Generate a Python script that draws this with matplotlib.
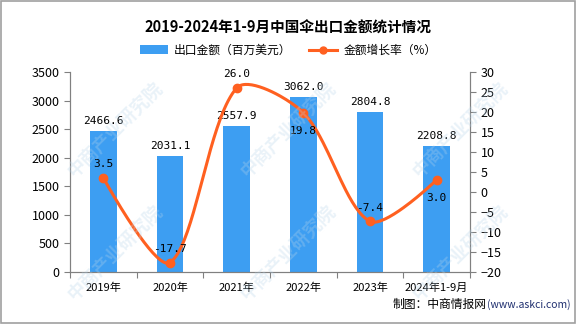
import numpy as np
import matplotlib
matplotlib.use("Agg")
import matplotlib.pyplot as plt
from matplotlib.lines import Line2D
from matplotlib.patches import Patch, Rectangle

plt.rcParams['font.family'] = ['Noto Sans CJK SC', 'DejaVu Sans']

categories = ["2019年", "2020年", "2021年", "2022年", "2023年", "2024年1-9月"]
export_value = [2466.6, 2031.1, 2557.9, 3062.0, 2804.8, 2208.8]
growth_rate = [3.5, -17.7, 26.0, 19.8, -7.4, 3.0]
# label above (+1) or below (-1) the growth point
rate_label_side = [1, 1, 1, -1, 1, -1]

BAR_COLOR = "#3d9ef2"
LINE_COLOR = "#ff6020"
AXIS_COLOR = "#808080"


def smooth_curve(pts, smooth=0.3, n=40):
    # bezier smoothing in pixel space (control points scaled by neighbour distances)
    pts = np.asarray(pts, float)
    m = len(pts)
    cp0 = pts.copy()
    cp1 = pts.copy()
    for i in range(1, m - 1):
        prev, p, nxt = pts[i - 1], pts[i], pts[i + 1]
        v = (nxt - prev) * smooth
        d0 = np.hypot(*(p - prev))
        d1 = np.hypot(*(nxt - p))
        s = d0 + d1
        cp0[i] = p - v * d0 / s
        cp1[i] = p + v * d1 / s
    t = np.linspace(0, 1, n)[:, None]
    segs = []
    for i in range(m - 1):
        a, b, c, d = pts[i], cp1[i], cp0[i + 1], pts[i + 1]
        segs.append((1 - t) ** 3 * a + 3 * (1 - t) ** 2 * t * b + 3 * (1 - t) * t ** 2 * c + t ** 3 * d)
    return np.vstack(segs)


fig = plt.figure(figsize=(5.76, 3.24), dpi=100)
fig.patches.append(Rectangle((0.002, 0.003), 0.996, 0.994, transform=fig.transFigure,
                             fill=False, edgecolor="#a0a0a0", linewidth=1.2))

ax = fig.add_axes([0.1215, 0.1614, 0.6945, 0.6164])
ax.patch.set_alpha(0)
ax2 = ax.twinx()

x = np.arange(len(categories))
ax.bar(x, export_value, width=0.4, color=BAR_COLOR, zorder=2)
for xi, v in zip(x, export_value):
    ax.text(xi, v + 90, f"{v:.1f}", ha="center", va="bottom", fontsize=8, color="black",
            family=["DejaVu Sans Mono"])

ax.set_ylim(0, 3500)
ax.set_yticks(np.arange(0, 3501, 500))
ax.set_xlim(-0.5, len(categories) - 0.5)
ax.set_xticks(np.arange(-0.5, len(categories), 1), minor=False)
ax.set_xticklabels([])
ax.set_xticks(x, minor=True)
ax.set_xticklabels(categories, minor=True, fontsize=8)
ax.tick_params(axis="x", which="minor", length=0, pad=8)
ax.tick_params(axis="x", which="major", length=4, color=AXIS_COLOR)
ax.tick_params(axis="y", length=4, color=AXIS_COLOR, labelsize=9)

ax2.set_ylim(-20, 30)
ax2.set_yticks(np.arange(-20, 31, 5))
ax2.tick_params(axis="y", length=4, color=AXIS_COLOR, labelsize=9)

# smooth the growth line in display space, then map back to data
disp = ax2.transData.transform(np.column_stack([x, growth_rate]))
curve = ax2.transData.inverted().transform(smooth_curve(disp))
ax2.plot(curve[:, 0], curve[:, 1], color=LINE_COLOR, linewidth=2.2, zorder=3)
ax2.plot(x, growth_rate, "o", color=LINE_COLOR, markersize=6, zorder=4)
for xi, v, side in zip(x, growth_rate, rate_label_side):
    offset = 2.2 if side > 0 else -3.4
    ax2.text(xi, v + offset, f"{v:.1f}", ha="center", va="bottom" if side > 0 else "top",
             fontsize=8, color="black", family=["DejaVu Sans Mono"])

for a in (ax, ax2):
    a.spines["top"].set_visible(False)
    for s in ("left", "right", "bottom"):
        a.spines[s].set_color(AXIS_COLOR)

# faint watermarks over everything, like the original
for wx, wy in [(0.2, 0.6), (0.5, 0.6), (0.8, 0.6), (0.2, 0.22), (0.5, 0.22), (0.8, 0.22)]:
    fig.text(wx, wy, "中商产业研究院", rotation=45, fontsize=13, color="#b8d4ea",
             alpha=0.3, ha="center", va="center", fontweight="bold")

fig.text(0.5, 0.915, "2019-2024年1-9月中国伞出口金额统计情况", ha="center", va="center",
         fontsize=10.5, fontweight="bold")

handles = [Patch(facecolor=BAR_COLOR, edgecolor="none"),
           Line2D([0], [0], color=LINE_COLOR, linewidth=2.2, marker="o", markersize=5)]
fig.legend(handles, ["出口金额（百万美元）", "金额增长率（%）"], loc="center",
           bbox_to_anchor=(0.5, 0.845), ncol=2, frameon=False, fontsize=8.5,
           handlelength=2.4, columnspacing=1.5, handletextpad=0.5)

fig.text(0.845, 0.06, "制图：中商情报网", ha="right", va="center", fontsize=8.5)
fig.text(0.845, 0.06, "(www.askci.com)", ha="left", va="center", fontsize=7.5,
         color="#1f2f6f")

fig.savefig("out.png", dpi=100)
